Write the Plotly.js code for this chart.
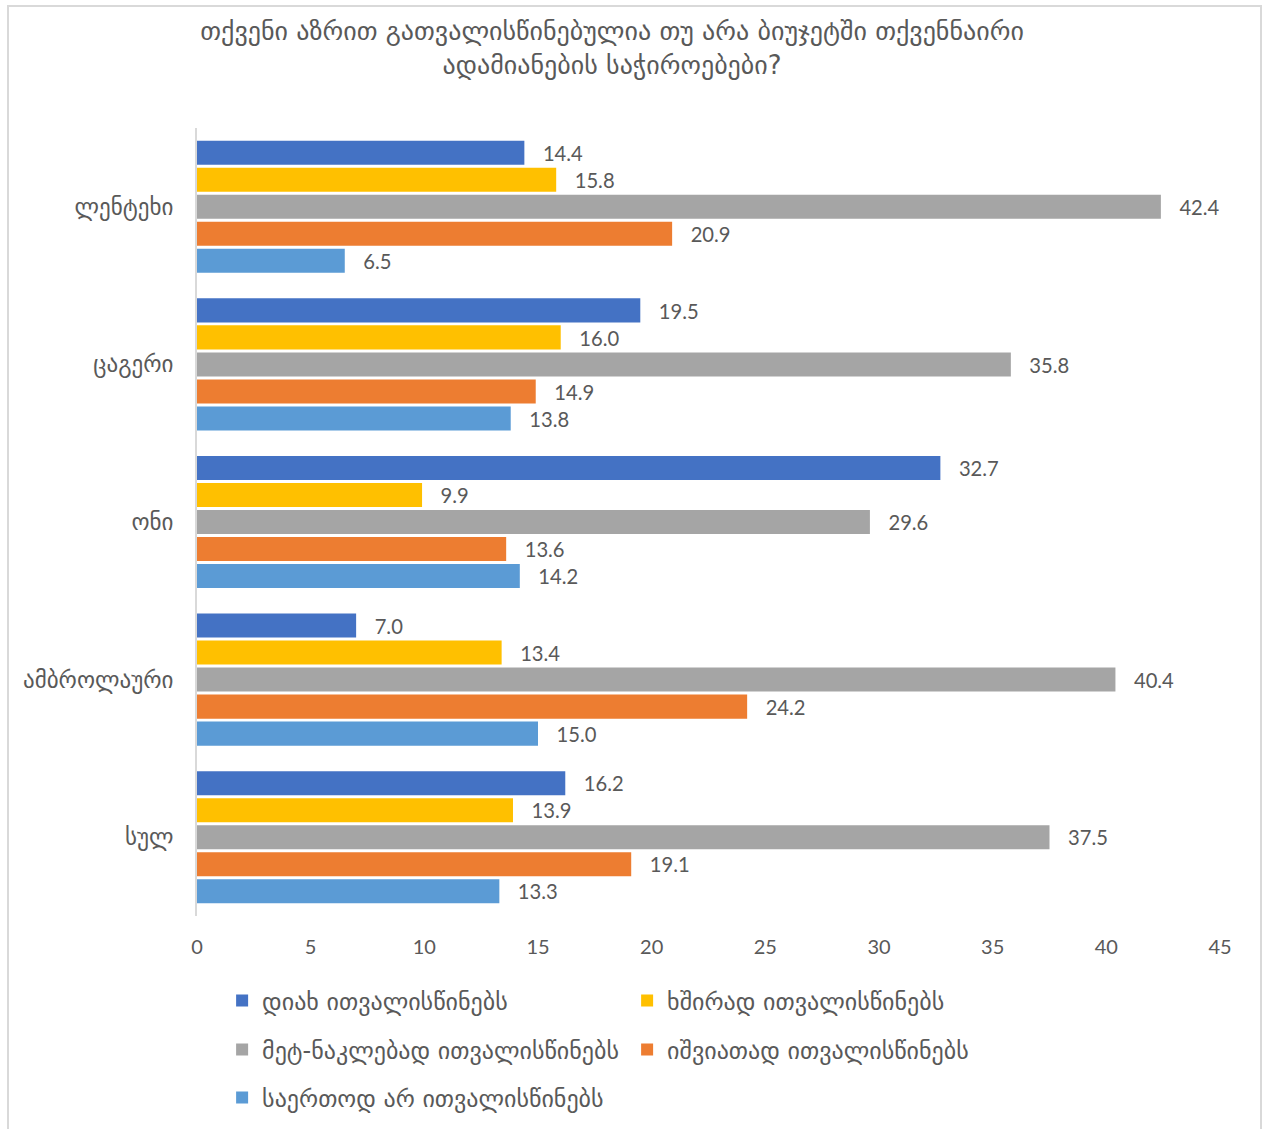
<!DOCTYPE html>
<html>
<head>
<meta charset="utf-8">
<script src="https://cdn.plot.ly/plotly-3.0.1.min.js"></script>
<style>
  html, body { margin: 0; padding: 0; background: #ffffff; }
  #chart { position: absolute; left: 0; top: 0; width: 1262px; height: 1129px; }
  #frame { position: absolute; left: 7px; top: 5px; width: 1251px; height: 1140px;
           border: 2px solid #D9D9D9; pointer-events: none; }
</style>
</head>
<body>
<div id="chart"></div>
<div id="frame"></div>
<script>
const categories = ["ლენტეხი", "ცაგერი", "ონი", "ამბროლაური", "სულ"];
const seriesNames = [
  "დიახ ითვალისწინებს",
  "ხშირად ითვალისწინებს",
  "მეტ-ნაკლებად ითვალისწინებს",
  "იშვიათად ითვალისწინებს",
  "საერთოდ არ ითვალისწინებს"
];
const yesValues       = [14.4, 19.5, 32.7, 7.0, 16.2];
const oftenValues     = [15.8, 16.0, 9.9, 13.4, 13.9];
const moreLessValues  = [42.4, 35.8, 29.6, 40.4, 37.5];
const rarelyValues    = [20.9, 14.9, 13.6, 24.2, 19.1];
const neverValues     = [6.5, 13.8, 14.2, 15.0, 13.3];
const xTickValues = [0, 5, 10, 15, 20, 25, 30, 35, 40, 45];

const seriesValues = [yesValues, oftenValues, moreLessValues, rarelyValues, neverValues];
const colors = ["#4472C4", "#FFC000", "#A5A5A5", "#ED7D31", "#5B9BD5"];
const legendIds = ["legend", "legend", "legend2", "legend2", "legend3"];

const numFont = "Lato, 'DejaVu Sans', sans-serif";
const geoFont = "'DejaVu Sans', sans-serif";
const textColor = "#595959";
const pad = "\u00A0\u00A0\u00A0";

const traces = seriesValues.map((vals, i) => ({
  type: "bar",
  orientation: "h",
  name: seriesNames[i],
  y: categories,
  x: vals,
  marker: { color: colors[i] },
  text: vals.map(v => pad + v.toFixed(1)),
  textposition: "outside",
  textfont: { family: numFont, size: 21, color: textColor },
  cliponaxis: false,
  legend: legendIds[i],
  legendrank: i,
  hoverinfo: "x+y+name"
}));

const legendCommon = {
  orientation: "h",
  xref: "container", yref: "container",
  xanchor: "left", yanchor: "middle",
  entrywidth: 360, entrywidthmode: "pixels",
  font: { family: geoFont, size: 24, color: textColor },
  bgcolor: "rgba(0,0,0,0)",
  itemwidth: 30,
  traceorder: "normal"
};

const layout = {
  width: 1262, height: 1129,
  paper_bgcolor: "#ffffff",
  plot_bgcolor: "#ffffff",
  margin: { l: 197, r: 42, t: 128, b: 213 },
  title: {
    text: "თქვენი აზრით გათვალისწინებულია თუ არა ბიუჯეტში თქვენნაირი<br>ადამიანების საჭიროებები?",
    font: { family: geoFont, size: 26, color: textColor },
    x: 0.485, xanchor: "center",
    y: 0.9646, yanchor: "top"
  },
  barmode: "group",
  bargap: 0.143,
  bargroupgap: 0.11,
  xaxis: {
    range: [0, 45],
    tickvals: xTickValues,
    ticktext: xTickValues.map(String),
    showgrid: false, zeroline: false, showline: false,
    ticks: "",
    ticklabelstandoff: 17,
    tickfont: { family: numFont, size: 20, color: textColor }
  },
  yaxis: {
    type: "category",
    range: [4.5, -0.5],
    showgrid: false, zeroline: false,
    showline: true, linecolor: "#D9D9D9", linewidth: 2,
    ticks: "",
    ticklabelstandoff: 17,
    tickfont: { family: geoFont, size: 23, color: textColor }
  },
  showlegend: true,
  legend:  Object.assign({}, legendCommon, { x: 0.176, y: 1 - 1001 / 1129 }),
  legend2: Object.assign({}, legendCommon, { x: 0.176, y: 1 - 1050 / 1129 }),
  legend3: Object.assign({}, legendCommon, { x: 0.176, y: 1 - 1098 / 1129 })
};

Plotly.newPlot("chart", traces, layout, { displayModeBar: false, responsive: false });
</script>
</body>
</html>
